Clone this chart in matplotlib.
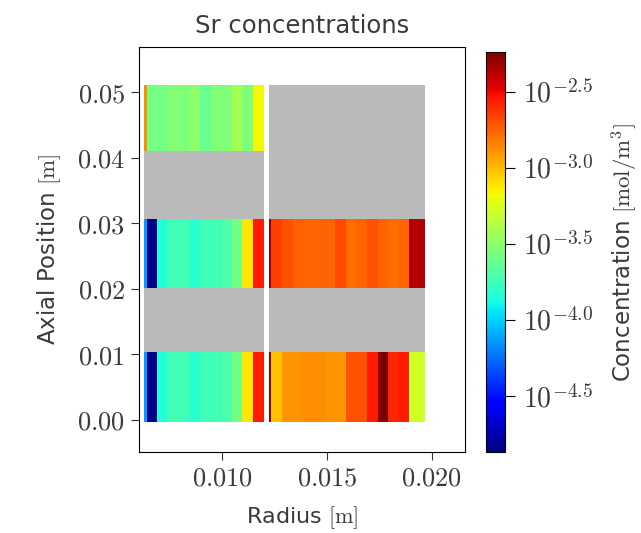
import numpy as np
import matplotlib
matplotlib.use('Agg')
import matplotlib.pyplot as plt
from matplotlib.colors import LogNorm
from matplotlib.ticker import FuncFormatter

plt.rcParams['mathtext.fontset'] = 'cm'

# axial cell edges [m]  (rows: fuel, gap, fuel, gap, fuel)
z_edges = [-0.0003, 0.0103, 0.0201, 0.0306, 0.0410, 0.0511]

# radial cell edges [m]
r_inner = [0.00629, 0.00640, 0.00689, 0.00739, 0.00791, 0.00842, 0.00894,
           0.00945, 0.00997, 0.01047, 0.01095, 0.01147, 0.01197]
r_outer = [0.01221, 0.01232, 0.01284, 0.01336, 0.01387, 0.01437, 0.01490,
           0.01540, 0.01589, 0.01640, 0.01690, 0.01742, 0.01793, 0.01845,
           0.01892, 0.01967]

nan = np.nan
# Sr concentrations [mol/m^3], nan = no data (grey)
inner_bottom = [7.1e-5, 1.44e-5, 1.43e-4, 1.82e-4, 1.82e-4, 1.52e-4, 1.82e-4,
                1.82e-4, 2.0e-4, 2.62e-4, 7.66e-4, 2.83e-3]
inner_middle = [7.1e-5, 1.44e-5, 1.43e-4, 1.82e-4, 1.82e-4, 1.52e-4, 1.82e-4,
                1.82e-4, 2.0e-4, 2.62e-4, 7.66e-4, 2.83e-3]
inner_top = [1.35e-3, 2.62e-4, 2.62e-4, 2.87e-4, 2.79e-4, 3.15e-4, 2.39e-4,
             2.87e-4, 2.87e-4, 3.77e-4, 2.79e-4, 6.70e-4]
outer_bottom = [5.04e-3, 9.75e-4, 1.29e-3, 1.29e-3, 1.35e-3, 1.35e-3, 1.29e-3,
                1.29e-3, 1.94e-3, 1.94e-3, 2.83e-3, 5.75e-3, 2.62e-3, 2.83e-3,
                5.05e-4]
outer_middle = [5.04e-3, 2.22e-3, 1.94e-3, 1.79e-3, 1.73e-3, 1.73e-3, 1.73e-3,
                2.04e-3, 1.68e-3, 1.73e-3, 1.94e-3, 1.73e-3, 1.68e-3, 1.73e-3,
                4.31e-3]
outer_top = [nan] * 15

vmin, vmax = 10**-4.87, 10**-2.24
cbar_ticks = [10**-4.5, 10**-4.0, 10**-3.5, 10**-3.0, 10**-2.5]
cbar_labels = [r'$10^{-4.5}$', r'$10^{-4.0}$', r'$10^{-3.5}$',
               r'$10^{-3.0}$', r'$10^{-2.5}$']

inner = np.array([inner_bottom, [nan] * 12, inner_middle, [nan] * 12, inner_top])
outer = np.array([outer_bottom, [nan] * 15, outer_middle, [nan] * 15, outer_top])

cmap = plt.get_cmap('jet').copy()
cmap.set_bad('#bababa')
norm = LogNorm(vmin=vmin, vmax=vmax)

fig = plt.figure(figsize=(6.41, 5.33), dpi=100)
ax = fig.add_axes([0.2168, 0.152, 0.5086, 0.7598])
cax = fig.add_axes([0.7582, 0.152, 0.0296, 0.7504])

m = ax.pcolormesh(r_inner, z_edges, np.ma.masked_invalid(inner), cmap=cmap, norm=norm)
ax.pcolormesh(r_outer, z_edges, np.ma.masked_invalid(outer), cmap=cmap, norm=norm)

txt = '#3a3a3a'
ax.set_xlim(0.00603, 0.02158)
ax.set_ylim(-0.0049, 0.0569)
ax.set_xticks([0.010, 0.015, 0.020])
ax.set_yticks([0.00, 0.01, 0.02, 0.03, 0.04, 0.05])
ax.xaxis.set_major_formatter(FuncFormatter(lambda v, p: r'$%.3f$' % v))
ax.yaxis.set_major_formatter(FuncFormatter(lambda v, p: r'$%.2f$' % v))
ax.tick_params(labelsize=19, length=6, pad=4, color='#333333', labelcolor=txt)
ax.set_xlabel(r'Radius $[\mathrm{m}]$', fontsize=16, color=txt, labelpad=9)
ax.set_ylabel(r'Axial Position $[\mathrm{m}]$', fontsize=16.5, color=txt, labelpad=10)
ax.set_title('Sr concentrations', fontsize=17.5, color=txt, pad=10)

cb = fig.colorbar(m, cax=cax)
cb.set_ticks(cbar_ticks)
cb.set_ticklabels(cbar_labels)
cb.ax.minorticks_off()
cb.ax.tick_params(labelsize=20, length=7, pad=6, labelcolor=txt)
cb.set_label(r'Concentration $[\mathrm{mol/m^3}]$', fontsize=16.5, color=txt, labelpad=12)

fig.savefig('out.png', dpi=100)
